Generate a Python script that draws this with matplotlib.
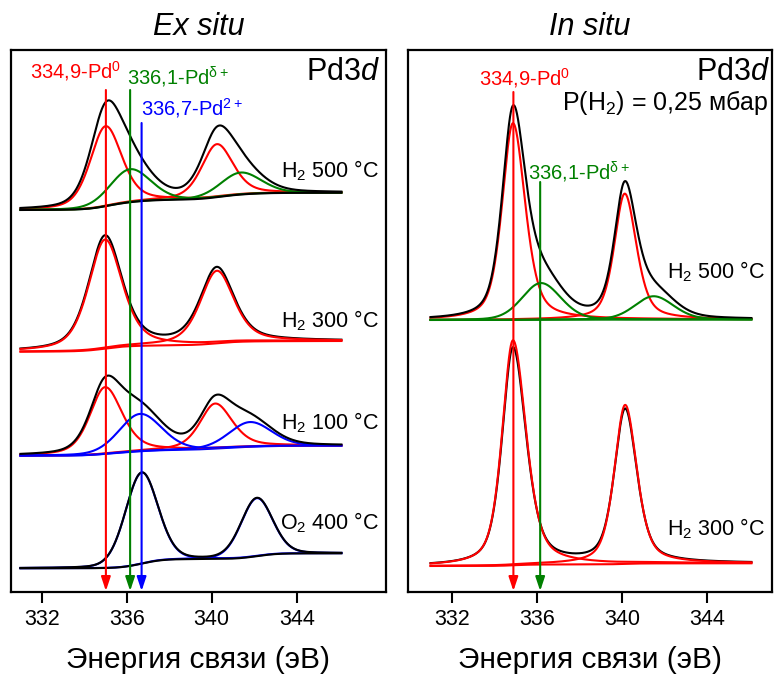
import numpy as np
import matplotlib
matplotlib.use("Agg")
import matplotlib.pyplot as plt

plt.rcParams['font.family'] = ['Liberation Sans', 'DejaVu Sans']
plt.rcParams['mathtext.fontset'] = 'custom'
plt.rcParams['mathtext.rm'] = 'Liberation Sans'
plt.rcParams['mathtext.it'] = 'Liberation Sans:italic'

RED, GREEN, BLUE, BLACK = '#ff0000', '#008000', '#0000ff', '#000000'

# ---------------- data (binding energy in eV, intensity in a.u. with offsets) -------------
energy_range = (331.0, 346.1)
xticks = [332, 336, 340, 344]

# peak: (centre eV, height, HWHM low side, HWHM high side, Lorentz fraction)
ex500_pd0 = [(335.00, 80.0, 0.85, 0.90, 0.4), (340.24, 53.0, 0.85, 0.90, 0.4)]
ex500_pdd = [(336.15, 33.0, 1.10, 1.15, 0.2), (341.35, 22.0, 1.10, 1.15, 0.2)]
ex500_bg = (382.0, 399.3)
ex500_gain = 1.08

ex300_pd0 = [(334.98, 109.0, 0.92, 0.95, 0.5), (340.24, 72.5, 0.92, 0.95, 0.5)]
ex300_bg = (240.3, 251.0)
ex300_gain = 1.03

ex100_pd0 = [(334.98, 66.7, 0.85, 0.95, 0.45), (340.16, 45.0, 0.85, 0.95, 0.45)]
ex100_pd2 = [(336.63, 37.3, 1.15, 1.20, 0.2), (341.80, 24.7, 1.15, 1.20, 0.2)]
ex100_bg = (136.3, 146.3)
ex100_gain = 1.0

exO2_pd2 = [(336.70, 91.0, 0.90, 0.90, 0.15), (342.12, 58.0, 0.87, 0.87, 0.15)]
exO2_bg = (23.7, 38.7)
exO2_gain = 1.0

in500_pd0 = [(334.88, 196.7, 0.60, 0.68, 0.5), (340.14, 126.0, 0.58, 0.65, 0.5)]
in500_pdd = [(336.20, 36.7, 1.05, 1.10, 0.2), (341.50, 23.3, 1.05, 1.10, 0.2)]
in500_bg = (272.0, 272.5)
in500_gain = 1.02

in300_pd0 = [(334.88, 225.0, 0.60, 0.73, 0.5), (340.16, 159.0, 0.60, 0.65, 0.5)]
in300_bg = (26.0, 28.7)
in300_gain = 0.965

# marker lines (energy, top of line) and labels
ex_marks_E = [335.02, 336.16, 336.70]
ex_marks_top = [502, 502, 469]
ex_marks_col = [RED, GREEN, BLUE]
in_marks_E = [334.90, 336.16]
in_marks_top = [500, 410]
in_marks_col = [RED, GREEN]

lbl_pd0 = r'334,9-Pd$\mathregular{^0}$'
lbl_pdd = r'336,1-Pd$\mathregular{^{δ+}}$'
lbl_pd2 = r'336,7-Pd$\mathregular{^{2+}}$'
cond_labels_ex = [r'H$\mathregular{_2}$ 500 °C', r'H$\mathregular{_2}$ 300 °C',
                  r'H$\mathregular{_2}$ 100 °C', r'O$\mathregular{_2}$ 400 °C']
cond_y_ex = [415, 264.7, 162.7, 62.7]
cond_labels_in = [r'H$\mathregular{_2}$ 500 °C', r'H$\mathregular{_2}$ 300 °C']
cond_y_in = [313.7, 57]

# ---------------- helpers -------------
E = np.linspace(energy_range[0], energy_range[1], 1200)


def peak(p):
    c, h, wl, wr, eta = p
    w = np.where(E < c, wl, wr)
    x = (E - c) / w
    return h * ((1 - eta) * np.exp(-np.log(2) * x ** 2) + eta / (1 + x ** 2))


def shirley(comps, bg):
    tot = np.sum(comps, axis=0)
    cum = np.cumsum(tot)
    return bg[0] + (bg[1] - bg[0]) * cum / cum[-1]


def draw(ax, groups, bg, gain, bgcolor, comps_on_top=False, bg_on_top=False):
    comps = [peak(p) for g, col in groups for p in g]
    base = shirley(comps, bg)
    env = base + gain * np.sum(comps, axis=0)
    z_comp = 5 if comps_on_top else 3
    z_bg = 4.5 if bg_on_top else 2.5
    ax.plot(E, base, color=bgcolor, lw=1.5, zorder=z_bg)
    for g, col in groups:
        for p in g:
            ax.plot(E, base + peak(p), color=col, lw=1.5, zorder=z_comp)
    ax.plot(E, env, color=BLACK, lw=1.5, zorder=4)


fig = plt.figure(figsize=(7.74, 6.75), dpi=100)
axL = fig.add_axes([11 / 774, 83 / 675, 375 / 774, 542 / 675])
axR = fig.add_axes([408 / 774, 83 / 675, 364 / 774, 542 / 675])
axL.set_xlim(330.555, 348.2)
axR.set_xlim(329.94, 347.07)
for ax in (axL, axR):
    ax.set_ylim(0, 542)
    ax.set_xticks(xticks)
    ax.set_yticks([])
    ax.tick_params(axis='x', direction='out', length=8, width=1.5, labelsize=15.5, pad=4)
    for s in ax.spines.values():
        s.set_linewidth(1.6)

# ex situ
draw(axL, [(ex500_pd0, RED), (ex500_pdd, GREEN)], ex500_bg, ex500_gain, BLACK, bg_on_top=True)
draw(axL, [(ex300_pd0, RED)], ex300_bg, ex300_gain, RED, comps_on_top=True)
draw(axL, [(ex100_pd0, RED), (ex100_pd2, BLUE)], ex100_bg, ex100_gain, BLUE)
draw(axL, [(exO2_pd2, BLUE)], exO2_bg, exO2_gain, BLACK, bg_on_top=True)
# in situ
draw(axR, [(in500_pd0, RED), (in500_pdd, GREEN)], in500_bg, in500_gain, GREEN, bg_on_top=True)
draw(axR, [(in300_pd0, RED)], in300_bg, in300_gain, RED, comps_on_top=True)


def marks(ax, Es, tops, cols):
    for e, t, c in zip(Es, tops, cols):
        ax.annotate('', xy=(e, 1), xytext=(e, t),
                    arrowprops=dict(arrowstyle='-|>,head_length=0.6,head_width=0.2',
                                    color=c, lw=1.5, mutation_scale=14,
                                    shrinkA=0, shrinkB=0), zorder=6)


marks(axL, ex_marks_E, ex_marks_top, ex_marks_col)
marks(axR, in_marks_E, in_marks_top, in_marks_col)

# labels left
axL.text(331.45, 513.7, lbl_pd0, color=RED, fontsize=14.5, ha='left', va='baseline')
axL.text(336.0, 507, lbl_pdd, color=GREEN, fontsize=14.5, ha='left', va='baseline')
axL.text(336.69, 477, lbl_pd2, color=BLUE, fontsize=14.5, ha='left', va='baseline')
axL.text(347.93, 512, r'Pd3$\mathregular{\it{d}}$', fontsize=22, ha='right', va='baseline')
for t, y in zip(cond_labels_ex, cond_y_ex):
    axL.text(347.88, y, t, fontsize=15.5, ha='right', va='baseline')

# labels right
axR.text(333.28, 507, lbl_pd0, color=RED, fontsize=14.5, ha='left', va='baseline')
axR.text(335.59, 412, lbl_pdd, color=GREEN, fontsize=14.5, ha='left', va='baseline')
axR.text(346.98, 512, r'Pd3$\mathregular{\it{d}}$', fontsize=22, ha='right', va='baseline')
axR.text(346.88, 482, r'P(H$\mathregular{_2}$) = 0,25 мбар', fontsize=18, ha='right', va='baseline')
for t, y in zip(cond_labels_in, cond_y_in):
    axR.text(346.74, y, t, fontsize=15.5, ha='right', va='baseline')

# titles and axis labels
fig.text((11 + 386) / 2 / 774, 1 - 35 / 675, 'Ex situ', fontsize=22, style='italic',
         ha='center', va='baseline')
fig.text((408 + 772) / 2 / 774, 1 - 35 / 675, 'In situ', fontsize=22, style='italic',
         ha='center', va='baseline')
for cx in ((11 + 386) / 2, (408 + 772) / 2):
    fig.text(cx / 774, (675 - 668.5) / 675, 'Энергия связи (эВ)', fontsize=21.5,
             ha='center', va='baseline')

fig.savefig('out.png', dpi=100)
